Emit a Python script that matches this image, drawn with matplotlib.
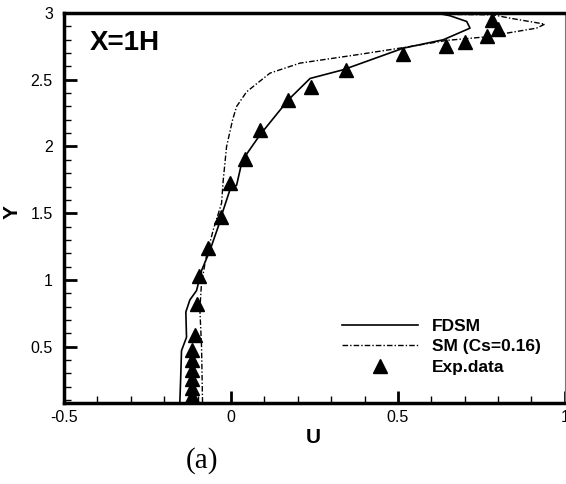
import matplotlib
matplotlib.use("Agg")
import matplotlib.pyplot as plt
from matplotlib.ticker import MultipleLocator

# Experimental data (triangles)
exp_u = [-0.116, -0.116, -0.116, -0.116, -0.116, -0.116, -0.108, -0.103, -0.095,
         -0.068, -0.031, -0.003, 0.042, 0.087, 0.172, 0.2395, 0.344, 0.515,
         0.643, 0.70, 0.768, 0.80, 0.783]
exp_y = [0.128, 0.19, 0.257, 0.327, 0.397, 0.472, 0.59, 0.82, 1.03,
         1.237, 1.47, 1.725, 1.91, 2.125, 2.35, 2.445, 2.57, 2.69,
         2.75, 2.78, 2.83, 2.88, 2.945]

# FDSM (solid)
fdsm_u = [-0.153, -0.150, -0.148, -0.133, -0.135, -0.123, -0.103, -0.088, -0.063,
          -0.038, -0.030, -0.003, 0.017, 0.032, 0.042, 0.087, 0.172, 0.237,
          0.336, 0.516, 0.636, 0.716, 0.706, 0.656, 0.626, 0.50]
fdsm_y = [0.08, 0.30, 0.47, 0.57, 0.76, 0.85, 0.92, 1.07, 1.22,
          1.40, 1.47, 1.675, 1.71, 1.875, 1.925, 2.087, 2.35, 2.51,
          2.575, 2.737, 2.80, 2.887, 2.937, 2.98, 2.995, 3.0]

# SM (Cs=0.16) (dash-dot)
sm_u = [-0.085, -0.088, -0.093, -0.088, -0.075, -0.053, -0.028, -0.023, -0.013,
        0.005, 0.017, 0.047, 0.117, 0.207, 0.376, 0.526, 0.646, 0.756,
        0.915, 0.94, 0.835, 0.785, 0.656, 0.50]
sm_y = [0.08, 0.50, 0.78, 0.98, 1.16, 1.375, 1.575, 1.75, 2.0,
        2.2, 2.30, 2.41, 2.55, 2.625, 2.687, 2.745, 2.795, 2.82,
        2.887, 2.917, 2.962, 2.987, 2.99, 3.0]

x_ticks = [-0.5, 0, 0.5, 1]
x_ticklabels = ["-0.5", "0", "0.5", "1"]
y_ticks = [0.5, 1, 1.5, 2, 2.5, 3]
y_ticklabels = ["0.5", "1", "1.5", "2", "2.5", "3"]

plt.rcParams['font.family'] = ['Liberation Sans', 'DejaVu Sans']

fig = plt.figure(figsize=(5.66, 4.84), dpi=100)
ax = fig.add_axes([0.113, 0.168, 0.885, 0.805])

ax.plot(fdsm_u, fdsm_y, color='black', lw=1.2, label='FDSM')
ax.plot(sm_u, sm_y, color='black', lw=1.0, linestyle=(0, (4, 1.5, 1, 1.5)),
        label='SM (Cs=0.16)')
ax.plot(exp_u, exp_y, linestyle='none', marker='^', color='black',
        markersize=10, label='Exp.data')

ax.set_xlim(-0.5, 1.0)
ax.set_ylim(0.08, 3.0)
ax.set_xticks(x_ticks)
ax.set_xticklabels(x_ticklabels)
ax.set_yticks(y_ticks)
ax.set_yticklabels(y_ticklabels)
ax.xaxis.set_minor_locator(MultipleLocator(0.1))
ax.yaxis.set_minor_locator(MultipleLocator(0.1))
ax.tick_params(which='major', direction='in', length=9, width=2,
               labelsize=11.5, top=False, right=False)
ax.tick_params(axis='y', which='major', pad=8)
ax.tick_params(axis='x', which='major', pad=5)
ax.tick_params(which='minor', direction='in', length=5, width=1,
               top=False, right=False)

for s in ['left', 'bottom', 'top']:
    ax.spines[s].set_linewidth(2.5)
ax.spines['right'].set_linewidth(0.8)
ax.spines['right'].set_color('#777777')

ax.set_xlabel('U', fontsize=15, fontweight='bold')
ax.xaxis.set_label_coords(0.497, -0.064)
ax.set_ylabel('Y', fontsize=15, fontweight='bold')
ax.yaxis.set_label_coords(-0.084, 0.49)

ax.text(-0.317, 2.777, 'X=1H', fontsize=20, fontweight='bold',
        ha='center', va='center')

leg = ax.legend(loc='upper left', bbox_to_anchor=(0.555, 0.215),
                frameon=False, handlelength=4.4,
                handletextpad=0.8, labelspacing=0.3, borderpad=0,
                borderaxespad=0, prop={'weight': 'bold', 'size': 12.5})

fig.text(202 / 566, 1 - 461 / 484, '(a)', fontsize=21,
         family='Liberation Serif', ha='center', va='center')

fig.savefig('out.png', dpi=100)
